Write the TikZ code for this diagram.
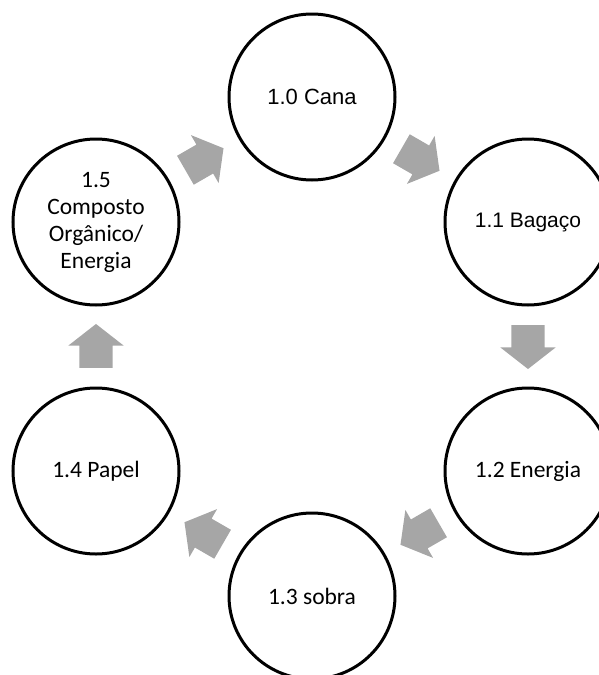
\documentclass[tikz,border=0pt]{standalone}
\usepackage{fontspec}
\setmainfont{Carlito}
\newfontfamily\arialfont{Liberation Sans}
\usetikzlibrary{shapes.arrows,calc}
\definecolor{arrowgray}{HTML}{A6A6A6}

\begin{document}
\begin{tikzpicture}
[x=1pt, y=-1pt,
stage/.style={draw, circle, line width=3pt, minimum size=166pt, inner sep=0pt,
  align=center, font=\fontsize{23.5}{27}\selectfont},
flow/.style={single arrow, draw=none, fill=arrowgray, minimum height=44pt,
  inner xsep=0pt, inner ysep=16.5pt, single arrow head extend=11pt,
  single arrow tip angle=104}]

\useasboundingbox (0,0) rectangle (598,675);

\node[stage, font=\arialfont\fontsize{22}{26}\selectfont] (cana) at (312,97) {1.0 Cana};
\node[stage, font=\arialfont\fontsize{21}{25}\selectfont] (bagaco) at (528,222) {1.1 Bagaço};
\node[stage] (energia) at (528,471) {1.2 Energia};
\node[stage] (sobra) at (312,596) {1.3 sobra};
\node[stage] (papel) at (96,471) {1.4 Papel};
\node[stage] (composto) at (96,222) {1.5\\Composto\\Orgânico/\\Energia};

\foreach \a/\b/\ang in {composto/cana/30, cana/bagaco/-30, bagaco/energia/-90,
    energia/sobra/210, sobra/papel/150, papel/composto/90}
  \node[flow, rotate=\ang] (\a-\b) at ($(\a)!0.5!(\b)!6pt!(\a)$) {};
\end{tikzpicture}
\end{document}
